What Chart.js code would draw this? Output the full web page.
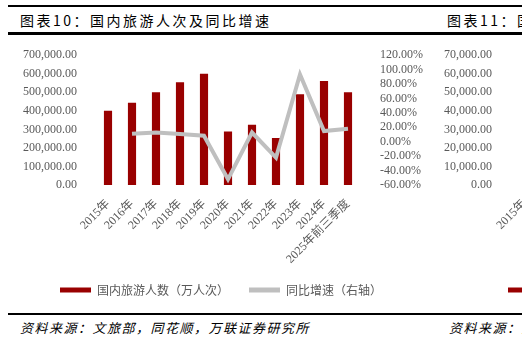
<!DOCTYPE html>
<html>
<head>
<meta charset="utf-8">
<script src="https://cdn.jsdelivr.net/npm/chart.js@4"></script>
<style>
  html, body { margin: 0; padding: 0; background: #fff; }
  body { width: 522px; height: 341px; position: relative; overflow: hidden; }
  .rule { position: absolute; left: 8px; right: 0; background: #000; }
  .title { position: absolute; top: 10px; font: 14px "Noto Sans CJK SC", sans-serif; letter-spacing: 2.5px; color: #000; white-space: nowrap; }
  .source { position: absolute; top: 318px; left: 20px; font: italic 13px "Noto Sans CJK SC", sans-serif; letter-spacing: 1.5px; color: #000; white-space: nowrap; }
  .box { position: absolute; top: 36px; width: 442px; height: 270px; }
</style>
</head>
<body>
<div class="rule" style="top:5px;height:2px"></div>
<div class="rule" style="top:32px;height:3px"></div>
<div class="rule" style="top:313px;height:2px"></div>
<div class="title" style="left:20px">图表10：国内旅游人次及同比增速</div>
<div class="title" style="left:447px">图表11：国内旅游收入及同比增速</div>
<div class="box" style="left:0"><canvas id="chart-trips"></canvas></div>
<div class="box" style="left:442px"><canvas id="chart-income"></canvas></div>
<div class="source">资料来源：文旅部，同花顺，万联证券研究所</div>
<div class="source" style="left:449px">资料来源：文旅部，同花顺，万联证券研究所</div>

<script>
// Data Start
const years = ["2015年", "2016年", "2017年", "2018年", "2019年", "2020年",
    "2021年", "2022年", "2023年", "2024年", "2025年前三季度"];
const trips = [400000, 444000, 500100, 553900, 600600, 287900,
    324600, 253000, 489100, 561500, 499800];
const tripsYoy = [null, 11.0, 12.8, 10.8, 8.4, -52.1, 12.8, -22.1, 93.3, 14.8, 18.0];
const leftTicks = [0, 100000, 200000, 300000, 400000, 500000, 600000, 700000];
const rightTicks = [-60, -40, -20, 0, 20, 40, 60, 80, 100, 120];
// chart 11 only shows its axis inside the crop
const incomeTicks = [0, 10000, 20000, 30000, 40000, 50000, 60000, 70000];
const income = [];
const incomeYoy = [];
// Data End

const red = "#990000";
const grey = "#BFBFBF";
const tickColor = "#595959";
const tickFont = { family: "'Liberation Serif', 'Noto Sans CJK SC', serif", size: 12 };

const money = (v) => v.toLocaleString("en-US", { minimumFractionDigits: 2, maximumFractionDigits: 2 });

function makeChart(el, barLabel, bars, yoy, barTicks, leftWidth) {
    return new Chart(el, {
        data: {
            labels: years,
            datasets: [
                {
                    type: "bar",
                    label: barLabel,
                    data: bars,
                    backgroundColor: red,
                    barPercentage: 0.34,
                    categoryPercentage: 1,
                    yAxisID: "y",
                    order: 1,
                },
                {
                    type: "line",
                    label: "同比增速（右轴）",
                    data: yoy,
                    borderColor: grey,
                    backgroundColor: grey,
                    borderWidth: 4,
                    pointRadius: 0,
                    tension: 0,
                    yAxisID: "y1",
                    order: 0,
                },
            ],
        },
        options: {
            animation: false,
            responsive: true,
            maintainAspectRatio: false,
            layout: { padding: { top: 19, left: 0, right: 0, bottom: 0 } },
            scales: {
                x: {
                    grid: { display: false },
                    border: { display: false },
                    ticks: {
                        color: tickColor,
                        font: tickFont,
                        minRotation: 45,
                        maxRotation: 45,
                        autoSkip: false,
                        padding: 4,
                    },
                    afterFit: (s) => { s.height = 79; },
                },
                y: {
                    position: "left",
                    min: barTicks[0],
                    max: barTicks[barTicks.length - 1],
                    grid: { display: false },
                    border: { display: false },
                    afterBuildTicks: (s) => { s.ticks = barTicks.map((v) => ({ value: v })); },
                    ticks: {
                        color: tickColor,
                        font: tickFont,
                        padding: 11,
                        autoSkip: false,
                        callback: (v) => money(v),
                    },
                    afterFit: (s) => { s.width = leftWidth; },
                },
                y1: {
                    position: "right",
                    min: -60,
                    max: 120,
                    grid: { display: false },
                    border: { display: false },
                    afterBuildTicks: (s) => { s.ticks = rightTicks.map((v) => ({ value: v })); },
                    ticks: {
                        color: tickColor,
                        font: tickFont,
                        padding: 12,
                        autoSkip: false,
                        callback: (v) => v.toFixed(2) + "%",
                    },
                    afterFit: (s) => { s.width = 82; },
                },
            },
            plugins: {
                tooltip: { enabled: false },
                legend: {
                    position: "bottom",
                    labels: {
                        boxWidth: 31,
                        boxHeight: 5,
                        padding: 20,
                        color: tickColor,
                        font: { family: "'Noto Sans CJK SC', sans-serif", size: 12 },
                        generateLabels: (chart) => chart.data.datasets.map((ds, i) => ({
                            text: ds.label,
                            fillStyle: ds.type === "bar" ? red : grey,
                            strokeStyle: ds.type === "bar" ? red : grey,
                            lineWidth: 0,
                            hidden: false,
                            fontColor: tickColor,
                            datasetIndex: i,
                        })),
                    },
                },
            },
        },
    });
}

// Chart Trips Start
makeChart(document.getElementById("chart-trips"), "国内旅游人数（万人次）", trips, tripsYoy, leftTicks, 96);
// Chart Trips End

// Chart Income Start
makeChart(document.getElementById("chart-income"), "国内旅游收入（亿元）", income, incomeYoy, incomeTicks, 69);
// Chart Income End
</script>
</body>
</html>
